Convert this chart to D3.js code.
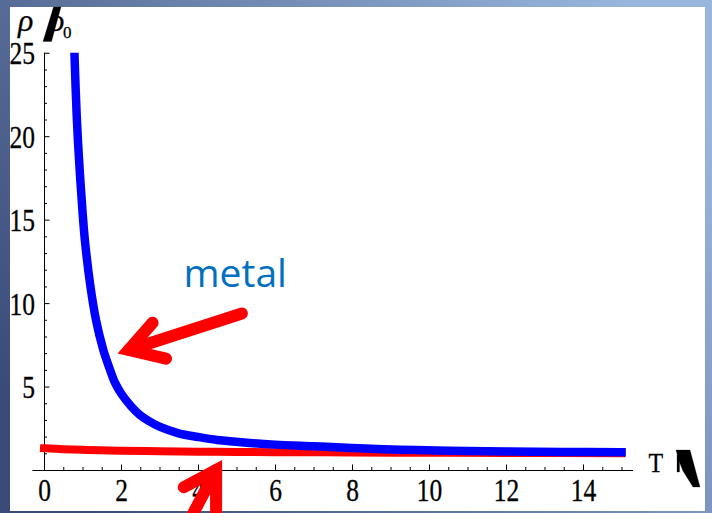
<!DOCTYPE html>
<html>
<head>
<meta charset="utf-8">
<script src="https://cdn.jsdelivr.net/npm/d3@7"></script>
<style>
  html, body { margin: 0; padding: 0; background: #fff; }
  svg { display: block; }
  .serif { font-family: "Liberation Serif", "DejaVu Serif", serif; stroke: #000; stroke-width: 0.25px; }
</style>
</head>
<body>
<svg id="chart" width="712" height="513"></svg>
<script>
// Normalised resistivity ρ/ρ0 against temperature T
const blueT   = [0.79, 0.85, 0.91, 1.0, 1.065, 1.2, 1.35, 1.54, 1.7, 1.84, 2.0, 2.25, 2.49, 2.75, 3.0, 3.5, 4.0, 4.5, 5.35, 6.0, 7.0, 8.0, 9.25, 10.5, 12.0, 13.5, 15.0];
const blueRho = [25, 21.2, 18.6, 15.5, 13.7, 11.1, 9.0, 7.2, 6.1, 5.25, 4.6, 3.85, 3.3, 2.9, 2.6, 2.2, 1.98, 1.8, 1.62, 1.52, 1.42, 1.32, 1.22, 1.16, 1.11, 1.08, 1.06];
const redT    = [0, 0.5, 1, 1.5, 2, 3, 4, 5, 6, 8, 10, 12, 15];
const redRho  = [1.30, 1.25, 1.21, 1.18, 1.16, 1.12, 1.10, 1.08, 1.07, 1.05, 1.03, 1.02, 1.00];

const xTickValues = [0, 2, 4, 6, 8, 10, 12, 14];
const yTickValues = [5, 10, 15, 20, 25];
const calloutText = "metal";

// callout arrows, in (T, ρ) units
const arrowUpper = { tail: [5.14, 9.38], vertex: [2.20, 7.19], barbs: [[2.82, 8.82], [3.17, 6.67]] };
const arrowLower = { tail: [3.62, -3.71], vertex: [4.47, 0.0], barbs: [[3.63, -1.03], [4.47, -4.3]] };

const W = 712, H = 513;
const svg = d3.select("#chart");
const defs = svg.append("defs");

// slide backdrop
const grad = defs.append("linearGradient").attr("id", "slideBg")
  .attr("x1", 0).attr("y1", 0.75).attr("x2", 1).attr("y2", 0.25);
grad.append("stop").attr("offset", 0).attr("stop-color", "#3a4b79");
grad.append("stop").attr("offset", 1).attr("stop-color", "#98b6dc");
svg.append("rect").attr("width", W).attr("height", H).attr("fill", "url(#slideBg)");
svg.append("rect").attr("x", 10).attr("y", 7).attr("width", 695).attr("height", 504).attr("fill", "#fff");

const x = d3.scaleLinear().domain([-0.3, 15.3]).range([32.45, 633.05]);
const y = d3.scaleLinear().domain([0, 25]).range([470, 52.75]);

const stretch = 1.2;

// x axis
const xMinor = d3.range(0.5, 15.01, 0.5).filter(v => !xTickValues.includes(v));
const gx = svg.append("g").attr("transform", `translate(0,${y(0)})`);
gx.call(d3.axisBottom(x).tickValues(xMinor).tickSizeInner(-3).tickSizeOuter(0).tickFormat(""));
gx.select(".domain").remove();
const gxMajor = svg.append("g").attr("transform", `translate(0,${y(0)})`);
gxMajor.call(d3.axisBottom(x).tickValues(xTickValues).tickSizeInner(-5.5).tickSizeOuter(0).tickFormat(d3.format("d")));
gxMajor.select(".domain").remove();
gxMajor.attr("font-family", null).attr("font-size", null);
gxMajor.selectAll("text")
  .attr("class", "serif")
  .attr("y", 31.5 / stretch).attr("dy", 0)
  .attr("transform", `scale(1,${stretch})`)
  .style("font-size", "25.5px").attr("fill", "#000");
svg.append("line")
  .attr("x1", x(-0.3)).attr("x2", x(15.3))
  .attr("y1", y(0) + 0.5).attr("y2", y(0) + 0.5)
  .attr("stroke", "#000").attr("stroke-width", 1);

// y axis
const yMinor = d3.range(1, 25).filter(v => !yTickValues.includes(v));
const gy = svg.append("g").attr("transform", `translate(${x(0)},0)`);
gy.call(d3.axisLeft(y).tickValues(yMinor).tickSizeInner(-3).tickSizeOuter(0).tickFormat(""));
gy.select(".domain").remove();
const gyMajor = svg.append("g").attr("transform", `translate(${x(0)},0)`);
gyMajor.call(d3.axisLeft(y).tickValues(yTickValues).tickSizeInner(-5.5).tickSizeOuter(0).tickFormat(d3.format("d")));
gyMajor.select(".domain").remove();
gyMajor.attr("font-family", null).attr("font-size", null);
gyMajor.selectAll("text")
  .attr("class", "serif")
  .attr("x", -9).attr("dy", "0.36em")
  .attr("transform", `scale(1,${stretch})`)
  .style("font-size", "25.5px").attr("fill", "#000");
svg.append("line")
  .attr("x1", x(0) + 0.5).attr("x2", x(0) + 0.5)
  .attr("y1", y(0)).attr("y2", y(25))
  .attr("stroke", "#000").attr("stroke-width", 1);

// curves
defs.append("clipPath").attr("id", "plotClip").append("rect")
  .attr("x", x(-0.3)).attr("y", y(25)).attr("width", x(15.3) - x(-0.3)).attr("height", H - y(25));

const line = d3.line().x(d => x(d[0])).y(d => y(d[1])).curve(d3.curveCatmullRom.alpha(0.5));
const curves = svg.append("g").attr("clip-path", "url(#plotClip)");
curves.append("path")
  .datum(redT.map((t, i) => [t, redRho[i]]))
  .attr("d", line).attr("fill", "none")
  .attr("stroke", "#ff0000").attr("stroke-width", 8).attr("stroke-linecap", "square");
curves.append("path")
  .datum(blueT.map((t, i) => [t, blueRho[i]]))
  .attr("d", line).attr("fill", "none")
  .attr("stroke", "#0000ff").attr("stroke-width", 8.5).attr("stroke-linecap", "square");

// axis titles
const yTitle = svg.append("g").attr("class", "serif").attr("fill", "#000");
yTitle.append("text").attr("x", 18).attr("y", 31)
  .style("font-style", "italic").style("font-size", "32px").text("ρ");
yTitle.append("text").attr("x", 49).attr("y", 31)
  .style("font-style", "italic").style("font-size", "32px").text("ρ");
yTitle.append("text").attr("x", 63).attr("y", 38)
  .style("font-size", "17px").text("0");
yTitle.append("path").attr("d", "M43,41.5 L51.5,41.5 L61,7 L53.5,7 Z").attr("fill", "#000");

const xTitle = svg.append("g").attr("class", "serif").attr("fill", "#000");
xTitle.append("text").attr("x", 648.5).attr("y", 472.5 / 1.12).attr("transform", "scale(1,1.12)")
  .style("font-size", "24px").text("T");
xTitle.append("rect").attr("x", 677).attr("y", 455).attr("width", 2.5).attr("height", 17).attr("fill", "#000");
xTitle.append("path").attr("d", "M676,450 L690,450 L700,487 L693,487 L683,471 L679,461 Z").attr("fill", "#000");

// callout
svg.append("text").attr("x", 183.5).attr("y", 286.5)
  .style("font-family", "'Open Sans', sans-serif").style("font-size", "39px")
  .attr("fill", "#0070c0").text(calloutText);

function drawArrow(a) {
  const g = svg.append("g").attr("fill", "none").attr("stroke", "#ff0000")
    .attr("stroke-width", 12).attr("stroke-linecap", "round").attr("stroke-linejoin", "miter")
    .attr("stroke-miterlimit", 10);
  const p = d => [x(d[0]), y(d[1])];
  g.append("path").attr("d", d3.line()([p(a.tail), p(a.vertex)]));
  g.append("path").attr("d", d3.line()([p(a.barbs[0]), p(a.vertex), p(a.barbs[1])]));
}
drawArrow(arrowUpper);
drawArrow(arrowLower);
</script>
</body>
</html>
